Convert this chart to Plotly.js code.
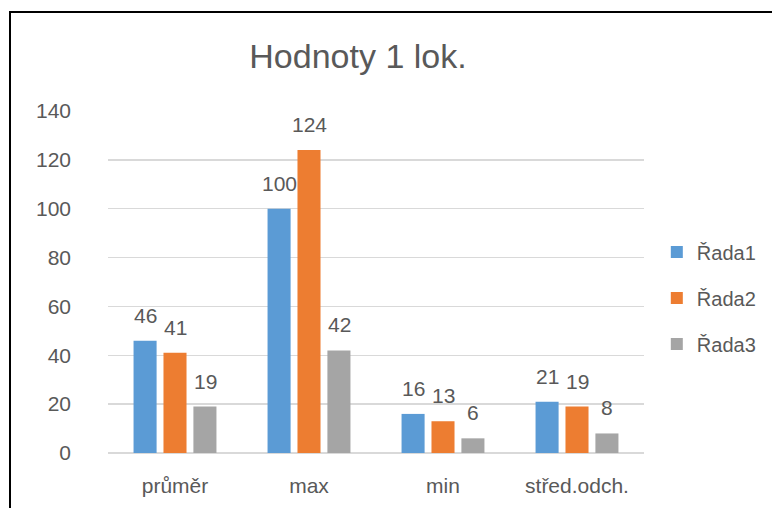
<!DOCTYPE html>
<html>
<head>
<meta charset="utf-8">
<script src="https://cdn.plot.ly/plotly-3.0.1.min.js"></script>
<style>
  html, body { margin: 0; padding: 0; background: #fff; }
  #wrap { position: relative; width: 772px; height: 508px; overflow: hidden; }
  #chart { width: 772px; height: 508px; }
  #frame { position: absolute; left: 9px; top: 11px; width: 900px; height: 700px;
           border-left: 2px solid #000; border-top: 2px solid #000; pointer-events: none; }
</style>
</head>
<body>
<div id="wrap">
  <div id="chart"></div>
  <div id="frame"></div>
</div>
<script>
const categories = ['průměr', 'max', 'min', 'střed.odch.'];
const seriesNames = ['Řada1', 'Řada2', 'Řada3'];
const rada1 = [46, 100, 16, 21];
const rada2 = [41, 124, 13, 19];
const rada3 = [19, 42, 6, 8];
const yTicks = [0, 20, 40, 60, 80, 100, 120, 140];
const colors = ['#5B9BD5', '#ED7D31', '#A5A5A5'];
const seriesValues = [rada1, rada2, rada3];

const textColor = '#595959';
const fontFam = 'Liberation Sans, Arial, sans-serif';

const traces = seriesValues.map((vals, i) => ({
  type: 'bar',
  name: seriesNames[i],
  x: categories,
  y: vals,
  marker: { color: colors[i] },
  legendgroup: 'g' + i,
  hoverinfo: 'none'
}));

// data labels above bars (offset per series slot)
const slot = 30;
const annotations = [];
seriesValues.forEach((vals, i) => {
  vals.forEach((v, j) => {
    annotations.push({
      x: categories[j], y: v, xref: 'x', yref: 'y',
      text: String(v), showarrow: false,
      xanchor: 'center', yanchor: 'bottom',
      xshift: (i - 1) * slot, yshift: 12,
      font: { family: fontFam, size: 21, color: textColor }
    });
  });
});

const layout = {
  width: 772, height: 508,
  margin: { l: 108, r: 127, t: 111, b: 55 },
  paper_bgcolor: '#fff', plot_bgcolor: '#fff',
  title: {
    text: 'Hodnoty 1 lok.',
    font: { family: fontFam, size: 34, color: textColor },
    x: 358 / 772, xanchor: 'center',
    y: 1 - 56 / 508, yanchor: 'middle'
  },
  barmode: 'group',
  bargap: 0.33,
  bargroupgap: 0.23,
  xaxis: {
    type: 'category',
    tickfont: { family: fontFam, size: 21, color: textColor },
    showgrid: false, zeroline: false, showline: false,
    ticks: '', ticklabelstandoff: 18
  },
  yaxis: {
    range: [0, 140],
    tickvals: yTicks,
    ticktext: yTicks.map(String),
    tickfont: { family: fontFam, size: 21, color: textColor },
    showgrid: true, gridcolor: '#D9D9D9', gridwidth: 1.5,
    zeroline: true, zerolinecolor: '#D9D9D9', zerolinewidth: 1.5,
    showline: false, ticks: '', ticklabelstandoff: 36
  },
  legend: {
    x: 1.022, xanchor: 'left',
    y: 0.453, yanchor: 'middle',
    font: { family: fontFam, size: 20, color: textColor },
    tracegroupgap: 17,
    bgcolor: 'rgba(0,0,0,0)'
  },
  showlegend: true,
  annotations: annotations
};

Plotly.newPlot('chart', traces, layout, { displayModeBar: false, staticPlot: true });
</script>
</body>
</html>
